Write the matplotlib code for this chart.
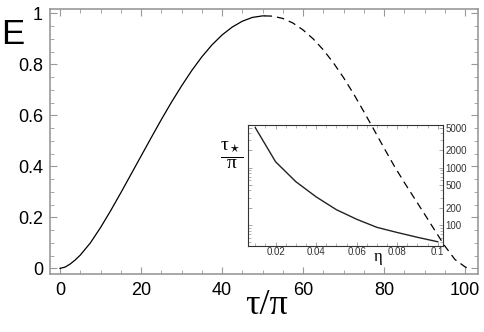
import numpy as np
import matplotlib
matplotlib.use('Agg')
import matplotlib.pyplot as plt
from matplotlib.ticker import MultipleLocator, FixedLocator, NullFormatter, LogLocator

# curva principal E(tau/pi), parte solida ate o maximo, tracejada depois
tau_sol = [0, 1.25, 2.5, 3.75, 5, 7.5, 10, 12.5, 15, 17.5, 20, 22.5, 25, 27.5, 30,
           32.5, 35, 37.5, 40, 42.5, 45, 47.5, 50, 50.5]
E_sol = [0, 0.005, 0.017, 0.033, 0.052, 0.10, 0.16, 0.226, 0.296, 0.368, 0.44,
         0.512, 0.583, 0.651, 0.715, 0.775, 0.829, 0.876, 0.915, 0.946, 0.969,
         0.984, 0.99, 0.99]
tau_dash = [50.5, 52.5, 55, 57.5, 60, 62.5, 65, 67.5, 70, 72.5, 75, 77.5, 80,
            82.5, 85, 87.5, 90, 92.5, 95, 97.5, 100, 100.8]
E_dash = [0.99, 0.989, 0.98, 0.962, 0.935, 0.90, 0.857, 0.806, 0.748, 0.684,
          0.615, 0.544, 0.472, 0.402, 0.337, 0.275, 0.213, 0.15, 0.088, 0.035,
          0.006, 0.0]

# grafico interno: tau_*/pi versus eta (escala log)
eta = [0.01, 0.02, 0.03, 0.04, 0.05, 0.06, 0.07, 0.08, 0.09, 0.1]
tstar = [5000, 1270, 570, 310, 185, 126, 91, 74, 61, 51]

xt_main = [0, 20, 40, 60, 80, 100]
yt_main = [0, 0.2, 0.4, 0.6, 0.8, 1]
yt_lab = ['0', '0.2', '0.4', '0.6', '0.8', '1']
xt_in = [0.02, 0.04, 0.06, 0.08, 0.1]
xt_in_lab = ['0.02', '0.04', '0.06', '0.08', '0.1']
yt_in = [100, 200, 500, 1000, 2000, 5000]

plt.rcParams['font.family'] = ['Liberation Sans', 'DejaVu Sans']
plt.rcParams['mathtext.fontset'] = 'custom'
plt.rcParams['mathtext.rm'] = 'Liberation Serif'
plt.rcParams['mathtext.it'] = 'Liberation Serif:italic'

fig = plt.figure(figsize=(4.84, 3.32), dpi=100)
ax = fig.add_axes([50/484, 1-274/332, (478-50)/484, (274-9)/332])
ax.set_xlim(-2.47, 103.2)
ax.set_ylim(-0.022, 1.017)
ax.set_xticks(xt_main)
ax.set_yticks(yt_main)
ax.set_yticklabels(yt_lab)
ax.xaxis.set_minor_locator(MultipleLocator(5))
ax.yaxis.set_minor_locator(MultipleLocator(0.05))
ax.tick_params(which='both', direction='in', top=True, right=True, color='#999999',
               labelsize=13, labelcolor='black')
ax.tick_params(which='major', length=5, width=0.8)
ax.tick_params(which='minor', length=3, width=0.6)
ax.tick_params(axis='y', pad=5)
ax.tick_params(axis='x', pad=6)
for s in ax.spines.values():
    s.set_color('#999999')
    s.set_linewidth(1.2)

fig.text(12.5/484, 1-34/332, 'E', fontsize=25, ha='center', va='center')
fig.text(267/484, 1-306/332, 'τ/π', fontsize=26, ha='center', va='center',
         family='Liberation Serif')

# grafico interno (fundo transparente, a curva principal passa por cima)
ins = fig.add_axes([248/484, 1-246/332, (443-248)/484, (246-125)/332])
ins.patch.set_facecolor('none')
ins.plot(eta, tstar, color='#222222', lw=1.0)
ins.set_yscale('log')
ins.set_xlim(0.0064, 0.1026)
ins.set_ylim(43, 5560)
ins.xaxis.set_major_locator(FixedLocator(xt_in))
ins.set_xticklabels(xt_in_lab)
ins.xaxis.set_minor_locator(MultipleLocator(0.005))
ins.yaxis.set_major_locator(FixedLocator(yt_in))
ins.set_yticklabels([str(v) for v in yt_in])
ins.yaxis.set_minor_locator(LogLocator(base=10, subs=np.arange(1, 10), numticks=20))
ins.yaxis.set_minor_formatter(NullFormatter())
ins.yaxis.tick_right()
ins.tick_params(which='both', direction='in', top=True, left=True, right=True,
                bottom=True, color='#999999', labelsize=7, labelcolor='#333333')
ins.tick_params(which='major', length=3, width=0.6)
ins.tick_params(which='minor', length=2, width=0.5)
ins.tick_params(axis='x', pad=1)
ins.tick_params(axis='y', pad=2)
for s in ins.spines.values():
    s.set_color('#333333')
    s.set_linewidth(0.8)

# curva principal desenhada numa camada por cima de tudo
top = fig.add_axes(ax.get_position(), sharex=ax, sharey=ax)
top.patch.set_facecolor('none')
top.axis('off')
top.plot(tau_sol, E_sol, color='black', lw=0.9)
top.plot(tau_dash, E_dash, color='black', lw=0.9, dashes=(6, 4))

fig.text(378/484, 1-257/332, 'η', fontsize=12, ha='center', va='center',
         family='Liberation Serif')
fig.text(232/484, 1-155/332, r'$\dfrac{\mathrm{\tau_\star}}{\mathrm{\pi}}$',
         fontsize=14, ha='center', va='center')

fig.savefig('out.png', dpi=100)
